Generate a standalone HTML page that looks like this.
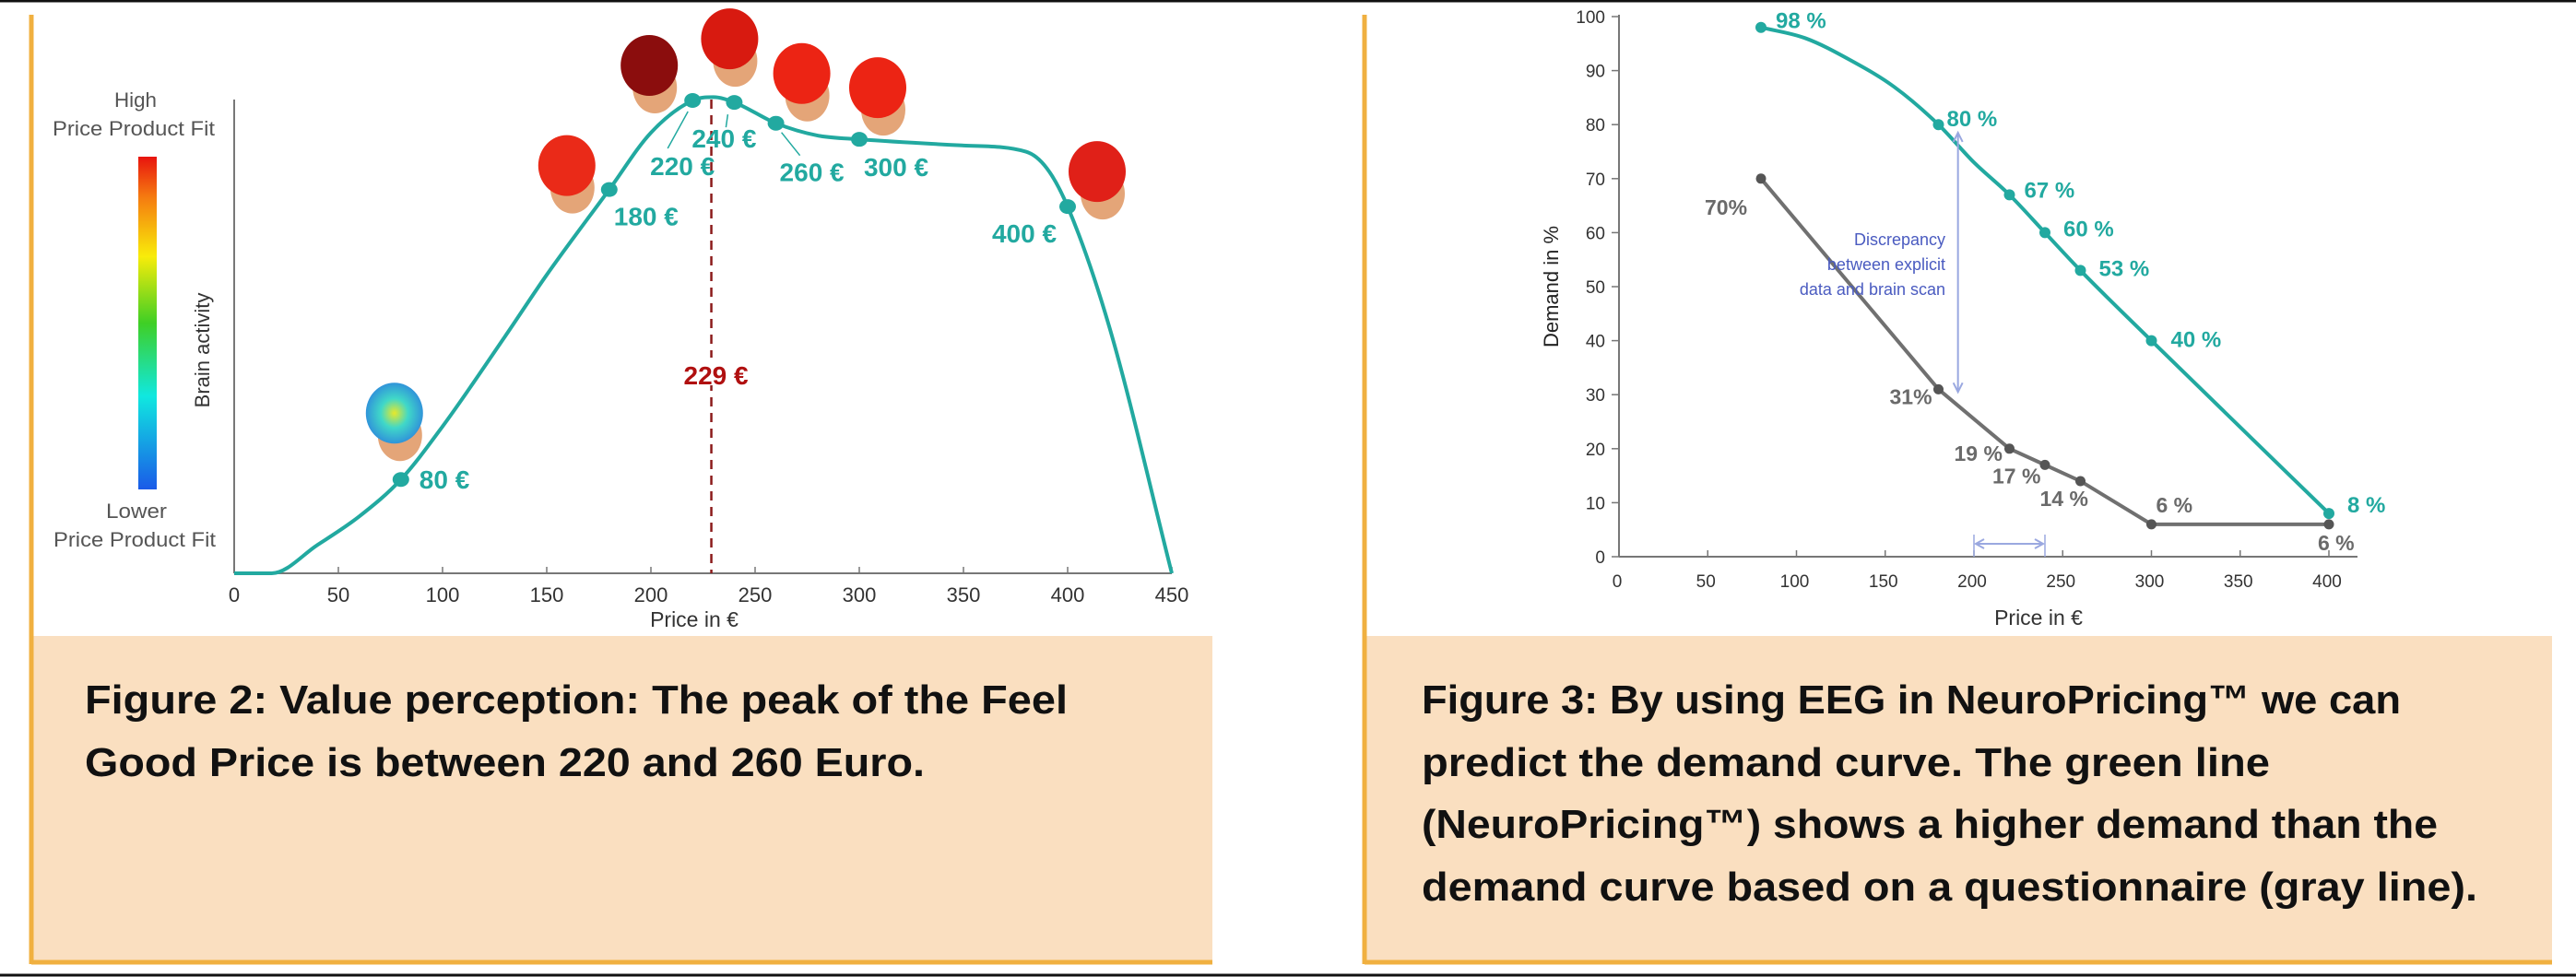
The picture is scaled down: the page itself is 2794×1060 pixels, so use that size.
<!DOCTYPE html>
<html><head><meta charset="utf-8"><style>
html,body{margin:0;padding:0;background:#fff;}
svg{display:block;font-family:"Liberation Sans",sans-serif;}
</style></head><body>
<svg id="root" width="2794" height="1060" viewBox="0 0 2794 1060" xmlns="http://www.w3.org/2000/svg">
<defs>
<linearGradient id="cbar" x1="0" y1="0" x2="0" y2="1">
<stop offset="0" stop-color="#e8140e"/><stop offset="0.12" stop-color="#f57a10"/><stop offset="0.3" stop-color="#f8ec0a"/><stop offset="0.5" stop-color="#3fcf25"/><stop offset="0.72" stop-color="#10e8e0"/><stop offset="1" stop-color="#1a5ae8"/>
</linearGradient>
<radialGradient id="bluehead" cx="0.5" cy="0.5" r="0.6"><stop offset="0" stop-color="#e8e82a"/><stop offset="0.4" stop-color="#40d8c8"/><stop offset="1" stop-color="#2a7ae0"/></radialGradient>
</defs>
<line x1="0" y1="1" x2="2794" y2="1" stroke="#111" stroke-width="3"/>
<line x1="0" y1="1058" x2="2794" y2="1058" stroke="#111" stroke-width="3"/>
<rect x="36" y="690" width="1279" height="354" fill="#fadfc0"/>
<line x1="34" y1="16" x2="34" y2="1046" stroke="#f0b040" stroke-width="5"/>
<line x1="34" y1="1044" x2="1315" y2="1044" stroke="#f0b040" stroke-width="5"/>
<text x="92" y="774" font-size="44" font-weight="bold" fill="#111" textLength="1066" lengthAdjust="spacingAndGlyphs">Figure 2: Value perception: The peak of the Feel</text>
<text x="92" y="842" font-size="44" font-weight="bold" fill="#111" textLength="911" lengthAdjust="spacingAndGlyphs">Good Price is between 220 and 260 Euro.</text>
<rect x="1482" y="690" width="1286" height="354" fill="#fadfc0"/>
<line x1="1480" y1="16" x2="1480" y2="1046" stroke="#f0b040" stroke-width="5"/>
<line x1="1480" y1="1044" x2="2768" y2="1044" stroke="#f0b040" stroke-width="5"/>
<text x="1542" y="774" font-size="44" font-weight="bold" fill="#111" textLength="1062" lengthAdjust="spacingAndGlyphs">Figure 3: By using EEG in NeuroPricing™ we can</text>
<text x="1542" y="842" font-size="44" font-weight="bold" fill="#111" textLength="920" lengthAdjust="spacingAndGlyphs">predict the demand curve. The green line</text>
<text x="1542" y="909" font-size="44" font-weight="bold" fill="#111" textLength="1102" lengthAdjust="spacingAndGlyphs">(NeuroPricing™) shows a higher demand than the</text>
<text x="1542" y="977" font-size="44" font-weight="bold" fill="#111" textLength="1145" lengthAdjust="spacingAndGlyphs">demand curve based on a questionnaire (gray line).</text>
<rect x="150" y="170" width="20" height="361" fill="url(#cbar)"/>
<g font-size="22" fill="#555" text-anchor="middle">
<text x="147" y="116" textLength="46" lengthAdjust="spacingAndGlyphs">High</text>
<text x="145" y="147" textLength="176" lengthAdjust="spacingAndGlyphs">Price Product Fit</text>
<text x="148" y="562" textLength="66" lengthAdjust="spacingAndGlyphs">Lower</text>
<text x="146" y="593" textLength="176" lengthAdjust="spacingAndGlyphs">Price Product Fit</text>
</g>
<text x="0" y="0" transform="translate(227,380) rotate(-90)" font-size="22" fill="#333" text-anchor="middle">Brain activity</text>
<text x="753" y="680" font-size="23" fill="#333" text-anchor="middle">Price in €</text>
<g id="left"></g>
<text x="0" y="0" transform="translate(1690,311) rotate(-90)" font-size="22" fill="#222" text-anchor="middle">Demand in %</text>
<text x="2211" y="678" font-size="23" fill="#333" text-anchor="middle">Price in €</text>
<g id="right"></g>
</svg>
<script>
// ---------- Left chart data ----------
const leftTicks = [0,50,100,150,200,250,300,350,400,450];
const curvePrice = [0,18,40,60,80,100,130,150,180,200,220,230,240,260,280,300,350,380,390,400,420,450];
const curveActivity = [0,0,6,12,19.8,31,50,63,81,93,99.8,100.5,99.4,95,92.4,91.6,90.3,89,85.5,77.4,52,0];
const pointPrice = [80,180,220,240,260,300,400];
const pointActivity = [19.8,81,99.8,99.4,95,91.6,77.4];
const pointLabels = ["80 €","180 €","220 €","240 €","260 €","300 €","400 €"];
const optimumPrice = [229];
const optimumLabel = ["229 €"];
// ---------- Right chart data ----------
const rightXTicks = [0,50,100,150,200,250,300,350,400];
const rightYTicks = [0,10,20,30,40,50,60,70,80,90,100];
const demandPrice = [80,180,220,240,260,300,400];
const neuroDemand = [98,80,67,60,53,40,8];
const neuroLabels = ["98 %","80 %","67 %","60 %","53 %","40 %","8 %"];
const neuroCurvePrice = [80,105,130,155,180,200,220,240,260,300,400];
const neuroCurveDemand = [98,96,92,87,80,73,67,60,53,40,8];
const surveyDemand = [70,31,20,17,14,6,6];
const surveyLabels = ["70%","31%","19 %","17 %","14 %","6 %","6 %"];
const rangePrice = [200,240];
const gapPrice = [191];

const NS="http://www.w3.org/2000/svg";
function mk(parent,tag,attrs,txt){const e=document.createElementNS(NS,tag);for(const k in attrs)e.setAttribute(k,attrs[k]);if(txt!==undefined)e.textContent=txt;parent.appendChild(e);return e;}
function mono(pts){const n=pts.length;const d=[],m=[];for(let i=0;i<n-1;i++)d.push((pts[i+1][1]-pts[i][1])/(pts[i+1][0]-pts[i][0]));
  m[0]=d[0];m[n-1]=d[n-2];for(let i=1;i<n-1;i++){m[i]=(d[i-1]*d[i]<=0)?0:(d[i-1]+d[i])/2;}
  for(let i=0;i<n-1;i++){if(d[i]===0){m[i]=0;m[i+1]=0;continue;}const a=m[i]/d[i],b=m[i+1]/d[i];const s=a*a+b*b;if(s>9){const t=3/Math.sqrt(s);m[i]=t*a*d[i];m[i+1]=t*b*d[i];}}
  let p="M"+pts[0][0]+","+pts[0][1];for(let i=0;i<n-1;i++){const h=(pts[i+1][0]-pts[i][0])/3;p+=" C"+(pts[i][0]+h)+","+(pts[i][1]+m[i]*h)+" "+(pts[i+1][0]-h)+","+(pts[i+1][1]-m[i+1]*h)+" "+pts[i+1][0]+","+pts[i+1][1];}return p;}

const lx=v=>254+v*(1271-254)/450, ly=v=>622-v*(622-108)/100;
const L=document.getElementById('left');
const TEAL="#22a9a0";
let e;
e=mk(L,'line',{x1:254,y1:108,x2:254,y2:622,stroke:'#777','stroke-width':2});


e=mk(L,'line',{x1:254,y1:622,x2:1271,y2:622,stroke:'#777','stroke-width':2});


leftTicks.forEach(t=>{
  const tk=mk(L,'line',{x1:lx(t),y1:615,x2:lx(t),y2:622,stroke:'#777','stroke-width':1.5});
  
  
  const tl=mk(L,'text',{x:lx(t),y:653,'font-size':22,fill:'#333','text-anchor':'middle'},String(t));
  
  
});
e=mk(L,'line',{x1:lx(optimumPrice[0]),y1:108,x2:lx(optimumPrice[0]),y2:622,stroke:'#8b1a1a','stroke-width':2.5,'stroke-dasharray':'10,7'});


e=mk(L,'rect',{x:lx(optimumPrice[0])-36,y:388,width:72,height:30,fill:'#fff'});


e=mk(L,'text',{x:lx(optimumPrice[0])+5,y:417,'font-size':28,'font-weight':'bold',fill:'#b01010','text-anchor':'middle'},optimumLabel[0]);


e=mk(L,'path',{d:mono(curvePrice.map((p,i)=>[lx(p),ly(curveActivity[i])])),fill:'none',stroke:TEAL,'stroke-width':4});


const lblOff=[[20,10],[40,39],[-11,81],[-11,49],[39,63],[40,40],[-47,39]];
const leaderOff=[null,null,[[-5,12],[-27,52]],[[-7,13],[-9,27]],[[6,10],[26,35]],null,null];
const headOff=[[-7,-64],[-46,-18],[-47,-30],[-5,-61],[28,-46],[20,-48],[32,-30]];
const headColor=['url(#bluehead)','#ea2a18','#8b0d0d','#d81a10','#ec2414','#ec2414','#e02018'];
pointPrice.forEach((p,i)=>{
  const x=lx(p),y=ly(pointActivity[i]);
  const hx=x+headOff[i][0],hy=y+headOff[i][1];
  const g=mk(L,'g',{});
  
  
  mk(g,'ellipse',{cx:hx+6,cy:hy+16,rx:24,ry:28,fill:'#e4a578'});
  mk(g,'ellipse',{cx:hx,cy:hy-8,rx:31,ry:33,fill:headColor[i]});
  if(leaderOff[i]){const ld=mk(L,'line',{x1:x+leaderOff[i][0][0],y1:y+leaderOff[i][0][1],x2:x+leaderOff[i][1][0],y2:y+leaderOff[i][1][1],stroke:TEAL,'stroke-width':1.5});
    
    }
  const c=mk(L,'ellipse',{cx:x,cy:y,rx:9,ry:8,fill:TEAL});
  
  
  const t=mk(L,'text',{x:x+lblOff[i][0],y:y+lblOff[i][1],'font-size':28,'font-weight':'bold',fill:TEAL,'text-anchor':i===0?'start':'middle'},pointLabels[i]);
  
  
});

const rx=v=>1756+v*(2526-1756)/400, ry=v=>604-v*(604-18)/100;
const R=document.getElementById('right');
const GRAY="#707070";
e=mk(R,'line',{x1:1756,y1:16,x2:1756,y2:604,stroke:'#777','stroke-width':2});


e=mk(R,'line',{x1:1756,y1:604,x2:2557,y2:604,stroke:'#777','stroke-width':2});


rightYTicks.forEach(t=>{
  const tk=mk(R,'line',{x1:1748,y1:ry(t),x2:1756,y2:ry(t),stroke:'#777','stroke-width':1.5});
  
  
  const tl=mk(R,'text',{x:1741,y:ry(t)+7,'font-size':19,fill:'#333','text-anchor':'end'},String(t));
  
  
});
rightXTicks.forEach(t=>{
  const tk=mk(R,'line',{x1:rx(t),y1:597,x2:rx(t),y2:604,stroke:'#777','stroke-width':1.5});
  
  
  const tl=mk(R,'text',{x:rx(t)-2,y:637,'font-size':19,fill:'#333','text-anchor':'middle'},String(t));
  
  
});
const ARW="#9aa8e0";
rangePrice.forEach(p=>{const l=mk(R,'line',{x1:rx(p),y1:580,x2:rx(p),y2:604,stroke:ARW,'stroke-width':1.5});
  
  });
const ya=590,xa=rx(rangePrice[0])+2,xb=rx(rangePrice[1])-2;
e=mk(R,'path',{d:`M${xa},${ya}H${xb}M${xa+9},${ya-5}L${xa},${ya}L${xa+9},${ya+5}M${xb-9},${ya-5}L${xb},${ya}L${xb-9},${ya+5}`,stroke:ARW,'stroke-width':2,fill:'none'});


e=mk(R,'polyline',{points:demandPrice.map((p,i)=>rx(p)+','+ry(surveyDemand[i])).join(' '),fill:'none',stroke:GRAY,'stroke-width':4});


e=mk(R,'path',{d:mono(neuroCurvePrice.map((p,i)=>[rx(p),ry(neuroCurveDemand[i])])),fill:'none',stroke:TEAL,'stroke-width':4});


const gx=rx(gapPrice[0]),gy1=ry(78.5),gy2=ry(30.5);
e=mk(R,'path',{d:`M${gx},${gy1}V${gy2}M${gx-5},${gy1+10}L${gx},${gy1}L${gx+5},${gy1+10}M${gx-5},${gy2-10}L${gx},${gy2}L${gx+5},${gy2-10}`,stroke:ARW,'stroke-width':2,fill:'none'});


["Discrepancy","between explicit","data and brain scan"].forEach((s,i)=>{
  const t=mk(R,'text',{x:2110,y:266+i*27,'font-size':18,fill:'#4a5bc0','text-anchor':'end'},s);
  
  
});
const nOff=[[16,1],[9,2],[16,3],[20,4],[20,6],[21,7],[20,-1]];
const sOff=[[-61,39],[-53,16],[-60,13],[-57,20],[-44,27],[5,-13],[-12,28]];
demandPrice.forEach((p,i)=>{
  const c=mk(R,'circle',{cx:rx(p),cy:ry(neuroDemand[i]),r:6,fill:TEAL});
  
  
  const t=mk(R,'text',{x:rx(p)+nOff[i][0],y:ry(neuroDemand[i])+nOff[i][1],'font-size':24,'font-weight':'bold',fill:TEAL},neuroLabels[i]);
  
  
  const s=mk(R,'circle',{cx:rx(p),cy:ry(surveyDemand[i]),r:5.5,fill:'#555'});
  
  
  const st=mk(R,'text',{x:rx(p)+sOff[i][0],y:ry(surveyDemand[i])+sOff[i][1],'font-size':23,'font-weight':'bold',fill:'#6a6a6a'},surveyLabels[i]);
  
  
});
</script>
</body></html>
